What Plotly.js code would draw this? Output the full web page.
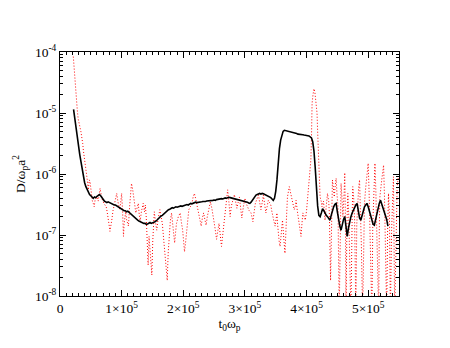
<!DOCTYPE html>
<html>
<head>
<meta charset="utf-8">
<script src="https://cdn.plot.ly/plotly-3.0.1.min.js"></script>
<style>html,body{margin:0;padding:0;background:#fff;}#plot{width:450px;height:348px;}</style>
</head>
<body>
<div id="plot"></div>
<script>
// Black solid series
const blackX = [22000,24000,26000,28000,30000,32000,34000,36000,38000,40000,42000,44000,46000,48000,50000,52000,54000,56000,58000,60000,62000,64000,66000,68000,70000,72000,74000,76000,78000,80000,82000,84000,86000,88000,90000,92000,94000,96000,98000,100000,102000,104000,106000,108000,110000,112000,114000,116000,118000,120000,122000,124000,126000,128000,130000,132000,134000,136000,138000,140000,142000,144000,146000,148000,150000,152000,154000,156000,158000,160000,162000,164000,166000,168000,170000,172000,174000,176000,178000,180000,182000,184000,186000,188000,190000,192000,194000,196000,198000,200000,202000,204000,206000,208000,210000,212000,214000,216000,218000,220000,222000,224000,226000,228000,230000,232000,234000,236000,238000,240000,242000,244000,246000,248000,250000,252000,254000,256000,258000,260000,262000,264000,266000,268000,270000,272000,274000,276000,278000,280000,282000,284000,286000,288000,290000,292000,294000,296000,298000,300000,302000,304000,306000,308000,310000,312000,314000,316000,318000,320000,322000,324000,326000,328000,330000,332000,334000,336000,338000,340000,342000,344000,346000,348000,350000,352000,354000,356000,358000,360000,362000,364000,366000,368000,370000,372000,374000,376000,378000,380000,382000,384000,386000,388000,390000,392000,394000,396000,398000,400000,402000,404000,406000,408000,410000,412000,414000,416000,418000,420000,422000,424000,426000,428000,430000,432000,434000,436000,438000,440000,442000,444000,446000,448000,450000,452000,454000,456000,458000,460000,462000,464000,466000,468000,470000,472000,474000,476000,478000,480000,482000,484000,486000,488000,490000,492000,494000,496000,498000,500000,502000,504000,506000,508000,510000,512000,514000,516000,518000,520000,522000,524000,526000,528000,530000,532000];
const blackY = [1.15e-5,8.2e-6,5.0e-6,3.6e-6,2.6e-6,2.1e-6,1.6e-6,1.2e-6,9.0e-7,7.2e-7,6.2e-7,5.5e-7,5.0e-7,4.6e-7,4.4e-7,4.1e-7,4.0e-7,4.2e-7,4.1e-7,4.3e-7,4.4e-7,4.6e-7,4.4e-7,4.1e-7,3.8e-7,3.6e-7,3.5e-7,3.4e-7,3.5e-7,3.4e-7,3.3e-7,3.3e-7,3.2e-7,3.1e-7,3.1e-7,3.0e-7,2.9e-7,2.8e-7,2.7e-7,2.7e-7,2.6e-7,2.5e-7,2.5e-7,2.4e-7,2.45e-7,2.35e-7,2.25e-7,2.15e-7,2.05e-7,1.95e-7,1.85e-7,1.8e-7,1.75e-7,1.7e-7,1.65e-7,1.6e-7,1.6e-7,1.55e-7,1.55e-7,1.5e-7,1.52e-7,1.55e-7,1.6e-7,1.55e-7,1.6e-7,1.65e-7,1.65e-7,1.7e-7,1.8e-7,1.9e-7,2.0e-7,2.05e-7,2.1e-7,2.2e-7,2.3e-7,2.35e-7,2.5e-7,2.6e-7,2.65e-7,2.7e-7,2.8e-7,2.75e-7,2.8e-7,2.9e-7,2.85e-7,2.9e-7,2.95e-7,3.0e-7,2.95e-7,3.0e-7,3.05e-7,3.1e-7,3.15e-7,3.1e-7,3.2e-7,3.3e-7,3.25e-7,3.3e-7,3.4e-7,3.45e-7,3.4e-7,3.45e-7,3.5e-7,3.45e-7,3.5e-7,3.55e-7,3.5e-7,3.55e-7,3.6e-7,3.6e-7,3.65e-7,3.7e-7,3.65e-7,3.7e-7,3.75e-7,3.7e-7,3.8e-7,3.85e-7,3.8e-7,3.9e-7,3.95e-7,3.9e-7,4.0e-7,4.05e-7,4.0e-7,4.1e-7,4.15e-7,4.1e-7,4.05e-7,4.1e-7,4.0e-7,3.95e-7,3.9e-7,3.85e-7,3.8e-7,3.8e-7,3.75e-7,3.7e-7,3.65e-7,3.6e-7,3.5e-7,3.45e-7,3.35e-7,3.3e-7,3.45e-7,3.7e-7,4.0e-7,4.3e-7,4.5e-7,4.6e-7,4.75e-7,4.8e-7,4.7e-7,4.8e-7,4.75e-7,4.65e-7,4.6e-7,4.5e-7,4.4e-7,4.3e-7,4.1e-7,3.9e-7,3.7e-7,4.0e-7,5.2e-7,8.0e-7,1.5e-6,2.6e-6,3.6e-6,4.5e-6,5.0e-6,5.2e-6,5.15e-6,5.05e-6,5.0e-6,4.95e-6,4.9e-6,4.85e-6,4.75e-6,4.7e-6,4.65e-6,4.6e-6,4.5e-6,4.5e-6,4.45e-6,4.4e-6,4.4e-6,4.35e-6,4.35e-6,4.3e-6,4.25e-6,4.2e-6,4.1e-6,3.9e-6,3.4e-6,2.4e-6,1.3e-6,6.0e-7,3.0e-7,2.1e-7,2.0e-7,2.3e-7,2.7e-7,2.5e-7,2.2e-7,2.1e-7,2.0e-7,1.85e-7,1.75e-7,2.1e-7,2.6e-7,2.9e-7,3.2e-7,3.3e-7,2.4e-7,1.75e-7,1.4e-7,1.2e-7,1.5e-7,1.8e-7,2.0e-7,1.3e-7,9.5e-8,1.3e-7,1.75e-7,2.0e-7,2.3e-7,2.6e-7,2.9e-7,3.1e-7,3.3e-7,2.5e-7,1.9e-7,1.75e-7,2.1e-7,2.6e-7,2.9e-7,3.1e-7,3.3e-7,2.9e-7,2.4e-7,2.0e-7,1.7e-7,1.5e-7,1.45e-7,1.8e-7,2.3e-7,2.8e-7,3.3e-7,3.7e-7,3.2e-7,2.7e-7,2.5e-7,2.1e-7,1.8e-7,1.4e-7];

// Red dotted series
const redX = [21600,23000,24400,26000,28100,29500,31300,33000,34000,35500,36800,38000,39500,40600,42000,43300,44300,46000,47500,48700,50000,51400,52500,54000,55500,57000,59500,62000,63500,65000,67000,69000,72000,75000,76500,78000,79500,81000,82500,84000,86000,88000,89000,91000,92000,94000,95500,97000,99000,100000,101500,103000,104000,105000,106500,108000,111000,113000,114500,116000,118000,120000,121500,123000,125000,127000,128500,130000,132000,135000,137000,138500,140000,141500,143000,144500,146500,149000,150500,153000,155000,157000,159000,162000,164000,166000,168000,170000,172000,174000,175500,177000,179000,181000,183500,186000,187500,189000,192000,195000,197000,199000,200500,202000,204000,206000,208000,209000,211500,214000,216000,218000,220000,222000,224000,226000,228000,229000,231000,233000,235000,237000,239000,241000,244000,246500,249000,251500,254000,256000,258000,260000,262000,264000,266000,267500,269000,272000,274000,276000,278000,281000,283000,285000,287000,289000,291000,293000,295000,297500,300000,302000,304000,307000,310000,313000,315000,317000,319500,322000,324000,326000,328000,330000,332000,334000,336000,338000,340000,342000,343500,345000,347000,349000,350500,352000,353000,354000,355500,357000,359000,361000,363000,365000,367000,369000,372000,374000,376000,378000,380000,382000,383000,385000,387000,389000,391000,392500,394000,396000,398000,400000,401000,404000,405500,407000,408000,409000,410500,412000,413500,415000,417000,418000,419000,420500,422000,424000,425000,427500,430000,432000,434000,436000,437000,439000,441000,442000,443500,445000,446500,448000,449500,451000,453000,455000,456000,457500,459000,461000,462000,463000,464000,465500,467000,468500,470000,472000,474000,475000,476500,478000,479000,480000,481500,483000,484500,486000,487500,489000,491000,492500,494000,496000,498000,500000,501500,503000,504500,506000,507500,509000,510000,511000,512500,514000,515500,517000,518000,519000,522000,523500,525000,526500,528000,530000,531500,533000,534500,536000,538000,539500,541000,543000,545000,547000,549000];
const redY = [8.4e-5,5.0e-5,3.1e-5,2.0e-5,1.1e-5,8e-6,6.0e-6,5.5e-6,4.9e-6,4.0e-6,3.2e-6,2.4e-6,1.9e-6,1.5e-6,1.1e-6,9e-7,7.9e-7,5.5e-7,8e-7,7.5e-7,5.5e-7,4.8e-7,3.6e-7,3.3e-7,2.9e-7,3.8e-7,4.2e-7,3.6e-7,5.0e-7,5.8e-7,4.5e-7,3.7e-7,3.2e-7,2.9e-7,2.4e-7,2.0e-7,1.5e-7,1.15e-7,1.6e-7,1.75e-7,2.5e-7,3.2e-7,3.7e-7,4.4e-7,4.8e-7,3.5e-7,2.8e-7,2.6e-7,3.8e-7,4.8e-7,2.5e-7,9.5e-8,1.5e-7,2.0e-7,2.4e-7,1.8e-7,1.4e-7,3.0e-7,5.0e-7,7.0e-7,5.5e-7,4.2e-7,3.0e-7,2.3e-7,2.8e-7,3.3e-7,2.2e-7,1.65e-7,2.4e-7,3.3e-7,2.4e-7,3.1e-7,1.9e-7,9.0e-8,3.2e-8,9.5e-8,5.0e-8,2.2e-8,8e-8,2.4e-7,1.6e-7,1.2e-7,1.8e-7,2.6e-7,2.0e-7,1.55e-7,9e-8,5.6e-8,3.0e-8,1.8e-8,5e-8,1.05e-7,1.7e-7,2.3e-7,1.3e-7,7.4e-8,1.1e-7,1.55e-7,2.0e-7,2.3e-7,1.6e-7,1.2e-7,8e-8,5.3e-8,8e-8,1.2e-7,1.8e-7,2.6e-7,2.9e-7,3.3e-7,4.2e-7,4.8e-7,4.0e-7,3.3e-7,2.6e-7,2.0e-7,1.6e-7,1.4e-7,1.9e-7,2.3e-7,1.8e-7,1.45e-7,2.0e-7,2.6e-7,3.5e-7,2.7e-7,2.0e-7,1.3e-7,8.5e-8,1.2e-7,1.55e-7,1.0e-7,6.5e-8,1.0e-7,1.55e-7,2.6e-7,3.7e-7,5.5e-7,3.5e-7,2.0e-7,3.0e-7,3.9e-7,4.6e-7,3.5e-7,2.75e-7,3.4e-7,4.2e-7,2.8e-7,1.9e-7,2.9e-7,4.0e-7,3.3e-7,2.9e-7,2.5e-7,2.3e-7,1.65e-7,2.4e-7,3.3e-7,3.9e-7,4.5e-7,3.4e-7,2.6e-7,3.4e-7,4.5e-7,3.2e-7,2.3e-7,2.9e-7,3.7e-7,3.4e-7,3.1e-7,2.5e-7,2.0e-7,1.7e-7,1.4e-7,1.8e-7,2.3e-7,1.5e-7,1.05e-7,8e-8,6.5e-8,1.2e-7,1.75e-7,9e-8,5.0e-8,1.5e-7,4.2e-7,6.2e-7,5.0e-7,4.2e-7,3.2e-7,2.6e-7,3.0e-7,3.7e-7,2.5e-7,1.75e-7,1.3e-7,9.5e-8,1.5e-7,2.3e-7,2.0e-7,1.75e-7,2.5e-7,3.3e-7,6.2e-7,1.0e-6,1.7e-6,4.0e-6,1.45e-5,2.0e-5,2.5e-5,2.2e-5,1.5e-5,1.0e-5,5.0e-6,2.5e-6,9e-7,4.2e-7,3.5e-7,2.9e-7,3.6e-7,1.75e-7,3.0e-7,4.8e-7,3.5e-7,2.3e-7,1.8e-8,2.5e-7,8e-7,6e-7,4.2e-7,6.5e-7,8.5e-7,4.5e-7,2.9e-7,5e-9,3e-7,7e-7,4e-7,2e-7,5e-7,1.05e-6,2e-7,5e-9,1.5e-7,4.8e-7,2e-7,6.5e-8,5e-9,2e-7,6.2e-7,4e-7,1.75e-7,3e-8,5e-9,1.5e-7,4.2e-7,6e-7,8e-7,3e-7,6.5e-8,5e-9,1e-7,3.3e-7,6e-7,1.05e-6,1.5e-6,5e-7,1.2e-7,3e-8,5e-9,1.5e-7,6.2e-7,1e-6,1.5e-6,5e-7,9.5e-8,3e-8,5e-9,1.2e-7,4.2e-7,8e-7,1.1e-6,1.4e-6,4e-7,5e-8,5e-9,1.2e-7,4.8e-7,2e-7,5e-9,1.2e-7,4e-7,9e-7,5e-9,1.5e-7,6.2e-7,9e-7];

// Tick labels
const xTickVals = [0,100000,200000,300000,400000,500000];
const xTickText = ['0','1×10<sup>5</sup>','2×10<sup>5</sup>','3×10<sup>5</sup>','4×10<sup>5</sup>','5×10<sup>5</sup>'];
const yTickVals = [1e-8,1e-7,1e-6,1e-5,1e-4];
const yTickText = ['10<sup>-8</sup>','10<sup>-7</sup>','10<sup>-6</sup>','10<sup>-5</sup>','10<sup>-4</sup>'];

const font = {family: '"Liberation Serif", "Times New Roman", serif', size: 13.5, color: '#000'};

const traces = [
  {x: redX, y: redY, type: 'scatter', mode: 'lines',
   line: {color: '#ff0000', width: 1, dash: '1px,2px'}, hoverinfo: 'skip'},
  {x: blackX, y: blackY, type: 'scatter', mode: 'lines',
   line: {color: '#000000', width: 1.6}, hoverinfo: 'skip'}
];

const axisCommon = {
  showgrid: false, zeroline: false, showline: true, mirror: 'ticks',
  linecolor: '#000', linewidth: 1, ticks: 'inside', ticklen: 6, tickcolor: '#000',
  tickfont: font
};

const layout = {
  width: 450, height: 348,
  margin: {l: 60, r: 51, t: 52, b: 52},
  paper_bgcolor: '#fff', plot_bgcolor: '#fff',
  showlegend: false, font: font,
  xaxis: Object.assign({}, axisCommon, {
    range: [0, 550000], tickmode: 'array', tickvals: xTickVals, ticktext: xTickText,
    minor: {dtick: 10000, ticks: 'inside', ticklen: 3, tickcolor: '#000', showgrid: false},
    title: {text: 't<sub>0</sub>ω<sub>p</sub>', font: font, standoff: 2}
  }),
  yaxis: Object.assign({}, axisCommon, {
    type: 'log', range: [-8, -4], tickmode: 'array', tickvals: yTickVals, ticktext: yTickText,
    minor: {dtick: 'D1', ticks: 'inside', ticklen: 3, tickcolor: '#000', showgrid: false},
    title: {text: 'D/ω<sub>p</sub>a<sup>2</sup>', font: font, standoff: 6}
  })
};

Plotly.newPlot('plot', traces, layout, {displayModeBar: false, staticPlot: true});
</script>
</body>
</html>
